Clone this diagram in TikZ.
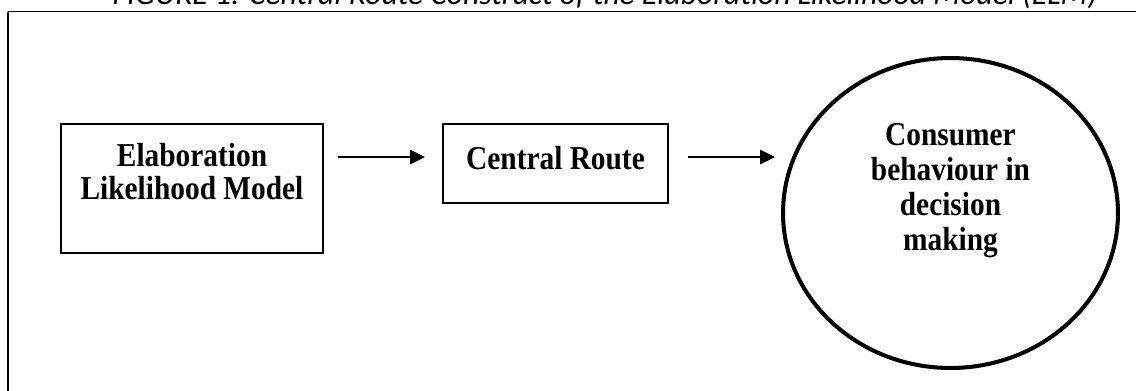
\documentclass[tikz,border=0pt]{standalone}
\usepackage{fontspec}
\setmainfont{Liberation Serif}
\newfontfamily\boxfont[FakeStretch=0.88]{Liberation Serif}
\newfontfamily\capfont{Carlito}
\usetikzlibrary{arrows,arrows.meta,shapes,positioning}

\begin{document}
\begin{tikzpicture}[x=0.02cm,y=-0.02cm,
  box/.style={draw,line width=1.1pt,inner sep=0pt,outer sep=0pt},
  boxtext/.style={align=center,inner sep=0pt,font=\boxfont\bfseries\fontsize{19}{18.8}\selectfont},
  flow/.style={line width=1pt,-{Triangle[length=0.3cm,width=0.29cm]}}]
  \useasboundingbox (0,0) rectangle (1136,390);
  \clip (0,0) rectangle (1136,390);

  % caption, cut at the top
  \node[anchor=base,inner sep=0pt,font=\capfont\itshape\fontsize{18}{20}\selectfont] (caption) at (605,4)
    {FIGURE 1: Central Route Construct of the Elaboration Likelihood Model (ELM)};
  \draw[line width=1.1pt] (8,11.5) -- (1150,11.5);
  \draw[line width=0.75pt] (8,11.5) -- (8,400);

  \node[box,minimum width=5.24cm,minimum height=2.58cm] (elm) at (192,188.5) {};
  \node[boxtext,below=0.37cm of elm.north] (elmtext) {Elaboration\\Likelihood Model};

  \node[box,minimum width=4.5cm,minimum height=1.58cm] (central) at (555.5,163.5) {};
  \node[boxtext,below=0.43cm of central.north] (centraltext) {Central Route};

  \node[box,ellipse,line width=2.3pt,minimum width=6.7cm,minimum height=6.2cm] (consumer) at (950.5,213) {};
  \node[boxtext,font=\boxfont\bfseries\fontsize{19}{19.9}\selectfont,below=1.3cm of consumer.north] (consumertext)
    {Consumer\\behaviour in\\decision\\making};

  \coordinate (arrowline) at (0,157);
  \draw[flow,shorten <=0.3cm,shorten >=0.36cm] (elm.east |- arrowline) -- (central.west |- arrowline);
  \draw[flow,shorten <=0.4cm,shorten >=0.16cm] (central.east |- arrowline) -- (consumer.west |- arrowline);
\end{tikzpicture}
\end{document}
